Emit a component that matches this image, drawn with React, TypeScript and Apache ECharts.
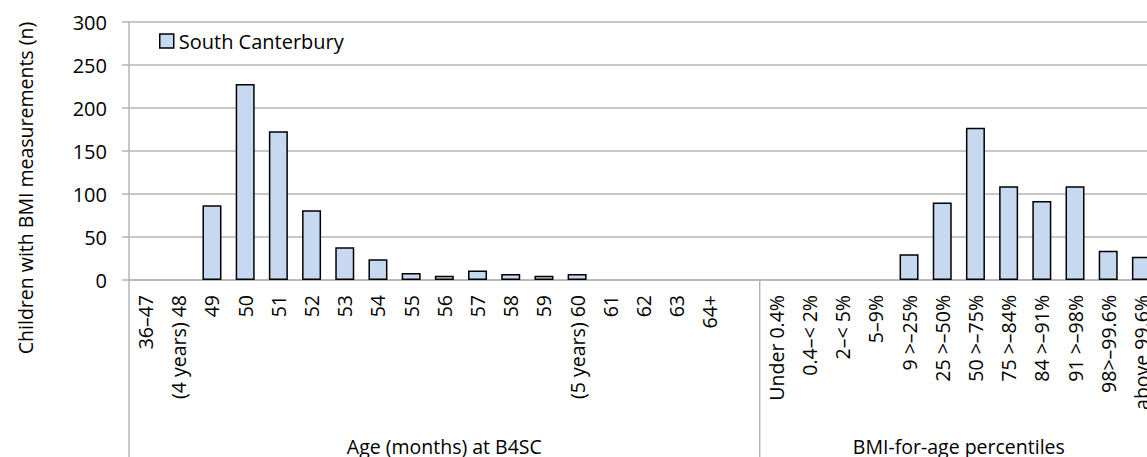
import React, { useEffect, useRef } from "react";
import * as echarts from "echarts";

const ageCategories = [
  "36–47", "(4 years) 48", "49", "50", "51", "52", "53", "54", "55", "56",
  "57", "58", "59", "(5 years) 60", "61", "62", "63", "64+",
];
const ageCounts = [0, 0, 87, 228, 173, 81, 38, 24, 8, 5, 11, 7, 5, 7, 0, 0, 0, 0];

const bmiCategories = [
  "Under 0.4%", "0.4–< 2%", "2–< 5%", "5–9%", "9 >–25%", "25 >–50%",
  "50 >–75%", "75 >–84%", "84 >–91%", "91 >–98%", "98>–99.6%", "above 99.6%",
];
const bmiCounts = [0, 0, 0, 0, 30, 90, 177, 109, 92, 109, 34, 27];

const groupTitles = ["Age (months) at B4SC", "BMI-for-age percentiles"];
const seriesName = "South Canterbury";
const yTitle = "Children with BMI measurements (n)";
const yMin = 0;
const yMax = 300;
const yInterval = 50;

const FONT = "'Open Sans', 'Noto Sans', sans-serif";
const TEXT = "#000000";
const GRID = "#B4B4B4";
const FILL = "#C6D9F1";

export default function App() {
  const ref = useRef<HTMLDivElement>(null);

  useEffect(() => {
    document.documentElement.style.overflow = "hidden";
    document.body.style.overflow = "hidden";
    document.body.style.margin = "0";
    if (!ref.current) return;
    const chart = echarts.init(ref.current, null, { renderer: "svg" });

    const categories = [...ageCategories, "", ...bmiCategories];
    const values = [...ageCounts, 0, ...bmiCounts].map((v) => (v === 0 ? null : v));

    chart.setOption({
      animation: false,
      textStyle: { fontFamily: FONT, color: TEXT },
      grid: { left: 129, top: 22, width: 1029, bottom: 177, containLabel: false },
      legend: {
        show: true,
        left: 159,
        top: 31,
        padding: 0,
        itemWidth: 14,
        itemHeight: 14,
        itemGap: 5,
        icon: "rect",
        data: [seriesName],
        textStyle: { fontFamily: FONT, fontSize: 20, color: TEXT },
        itemStyle: { color: FILL, borderColor: "#000", borderWidth: 1.5 },
      },
      xAxis: {
        type: "category",
        data: categories,
        boundaryGap: true,
        axisLine: { show: true, lineStyle: { color: GRID, width: 1.5 } },
        axisTick: { show: false },
        splitLine: { show: false },
        axisLabel: {
          interval: 0,
          rotate: 90,
          margin: 15,
          fontFamily: FONT,
          fontSize: 19.5,
          color: TEXT,
        },
      },
      yAxis: {
        type: "value",
        min: yMin,
        max: yMax,
        interval: yInterval,
        axisLine: { show: true, lineStyle: { color: GRID, width: 1.5 } },
        axisTick: { show: true, inside: false, length: 7, lineStyle: { color: GRID, width: 1.5 } },
        splitLine: { show: true, lineStyle: { color: GRID, width: 1.5 } },
        axisLabel: { margin: 22, fontFamily: FONT, fontSize: 20, color: TEXT },
      },
      series: [
        {
          name: seriesName,
          type: "bar",
          data: values,
          barWidth: 19,
          itemStyle: { color: FILL, borderColor: "#000", borderWidth: 1.5 },
        },
      ],
    });

    const c0 = chart.convertToPixel({ xAxisIndex: 0 }, 0) as number;
    const c1 = chart.convertToPixel({ xAxisIndex: 0 }, 1) as number;
    const w = c1 - c0;
    const leftEdge = c0 - w / 2;
    const splitIdx = ageCategories.length + 1;
    const splitX = (chart.convertToPixel({ xAxisIndex: 0 }, splitIdx) as number) - w / 2;
    const rightEdge = (chart.convertToPixel({ xAxisIndex: 0 }, categories.length - 1) as number) + w / 2;
    const y0 = chart.convertToPixel({ yAxisIndex: 0 }, 0) as number;
    const yTop = chart.convertToPixel({ yAxisIndex: 0 }, yMax) as number;
    const titleY = 446;

    chart.setOption({
      graphic: [
        {
          type: "line",
          shape: { x1: leftEdge, y1: y0, x2: leftEdge, y2: 470 },
          style: { stroke: GRID, lineWidth: 1.5 },
          silent: true,
        },
        {
          type: "line",
          shape: { x1: splitX, y1: y0, x2: splitX, y2: 470 },
          style: { stroke: GRID, lineWidth: 1.5 },
          silent: true,
        },
        {
          type: "text",
          x: (leftEdge + splitX) / 2,
          y: titleY,
          style: {
            text: groupTitles[0],
            fontFamily: FONT,
            fontSize: 19.5,
            fill: TEXT,
            align: "center",
            verticalAlign: "middle",
          },
          silent: true,
        },
        {
          type: "text",
          x: (splitX + rightEdge) / 2,
          y: titleY,
          style: {
            text: groupTitles[1],
            fontFamily: FONT,
            fontSize: 19.5,
            fill: TEXT,
            align: "center",
            verticalAlign: "middle",
          },
          silent: true,
        },
        {
          type: "text",
          x: 25,
          y: (yTop + y0) / 2 + 37,
          rotation: Math.PI / 2,
          style: {
            text: yTitle,
            fontFamily: FONT,
            fontSize: 19.5,
            fill: TEXT,
            align: "center",
            verticalAlign: "middle",
          },
          silent: true,
        },
      ],
    });

    return () => chart.dispose();
  }, []);

  return (
    <div
      ref={ref}
      style={{ position: "fixed", left: 0, top: 0, width: 1170, height: 457, background: "#fff" }}
    />
  );
}
